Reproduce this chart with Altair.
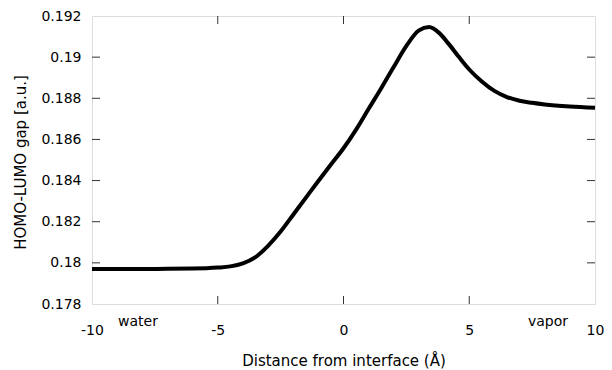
import altair as alt
import pandas as pd

# Data
distance = [-10, -9, -8, -7, -6, -5, -4.5, -4, -3.5, -3, -2.5, -2, -1.5, -1, -0.5,
            0, 0.5, 1, 1.5, 2, 2.5, 3, 3.4, 3.8, 4.2, 4.6, 5, 5.5, 6, 6.5, 7, 7.5,
            8, 9, 10]
gap = [0.17970, 0.17970, 0.17970, 0.17971, 0.17972, 0.17977, 0.17983, 0.17998,
       0.18028, 0.18083, 0.18152, 0.18234, 0.18316, 0.18398, 0.18478,
       0.18557, 0.18648, 0.18749, 0.18849, 0.18953, 0.19055, 0.19130, 0.19146,
       0.19118, 0.19062, 0.18999, 0.18940, 0.18882, 0.18836, 0.18806, 0.18788,
       0.18778, 0.18770, 0.18760, 0.18754]

x_ticks = [-10, -5, 0, 5, 10]
x_inner_ticks = [-5, 0, 5]
y_ticks = [0.178, 0.18, 0.182, 0.184, 0.186, 0.188, 0.19, 0.192]
y_inner_ticks = [0.18, 0.182, 0.184, 0.186, 0.188, 0.19]
region_labels = ["water", "vapor"]
region_x = [-8.17, 8.13]

W, H = 503, 288
FONT = "DejaVu Sans"

df = pd.DataFrame({"x": distance, "y": gap})
xt = pd.DataFrame({"x": x_inner_ticks})
yt = pd.DataFrame({"y": y_inner_ticks})
lab = pd.DataFrame({"x": region_x, "t": region_labels})

xs = alt.Scale(domain=[-10, 10], nice=False, zero=False)
ys = alt.Scale(domain=[0.178, 0.192], nice=False, zero=False)

line = alt.Chart(df).mark_line(color="black", strokeWidth=4, interpolate="monotone").encode(
    x=alt.X("x:Q", scale=xs,
            axis=alt.Axis(values=x_ticks, title="Distance from interface (Å)",
                          grid=False, domain=False, tickSize=0, labelPadding=19,
                          labelFontSize=14, labelFont=FONT, labelColor="black",
                          labelExpr="toString(datum.value)",
                          titleFont=FONT, titleFontSize=15, titleFontWeight="normal",
                          titleColor="black", titleX=W / 2, titleY=56,
                          titleAlign="center", titleBaseline="middle",
                          labelFlush=False)),
    y=alt.Y("y:Q", scale=ys,
            axis=alt.Axis(values=y_ticks, title="HOMO-LUMO gap [a.u.]",
                          grid=False, domain=False, tickSize=0, labelPadding=11,
                          labelFontSize=14, labelFont=FONT, labelColor="black",
                          labelExpr="format(datum.value, '~g')",
                          titleFont=FONT, titleFontSize=15, titleFontWeight="normal",
                          titleColor="black", titleX=-72, titleY=146,
                          titleAngle=-90, titleAlign="center", titleBaseline="middle",
                          labelFlush=False)),
)

tick_color = "#333333"
bottom_ticks = alt.Chart(xt).mark_rule(color=tick_color, strokeWidth=1).encode(
    x=alt.X("x:Q", scale=xs), y=alt.value(H), y2=alt.value(H - 8))
top_ticks = alt.Chart(xt).mark_rule(color=tick_color, strokeWidth=1).encode(
    x=alt.X("x:Q", scale=xs), y=alt.value(0), y2=alt.value(8))
left_ticks = alt.Chart(yt).mark_rule(color=tick_color, strokeWidth=1).encode(
    y=alt.Y("y:Q", scale=ys), x=alt.value(0), x2=alt.value(8))
right_ticks = alt.Chart(yt).mark_rule(color=tick_color, strokeWidth=1).encode(
    y=alt.Y("y:Q", scale=ys), x=alt.value(W), x2=alt.value(W - 8))

labels = alt.Chart(lab).mark_text(font=FONT, fontSize=14, color="black",
                                  baseline="middle", align="center").encode(
    x=alt.X("x:Q", scale=xs), y=alt.value(H + 18), text="t:N")

chart = alt.layer(bottom_ticks, top_ticks, left_ticks, right_ticks, line, labels).properties(
    width=W, height=H,
    autosize=alt.AutoSizeParams(type="none"),
    padding={"left": 92, "top": 16, "right": 17, "bottom": 66},
).configure_view(stroke="black", strokeWidth=1.2).configure(background="white")

chart.save("out.html", embed_options={"renderer": "svg", "actions": False})
